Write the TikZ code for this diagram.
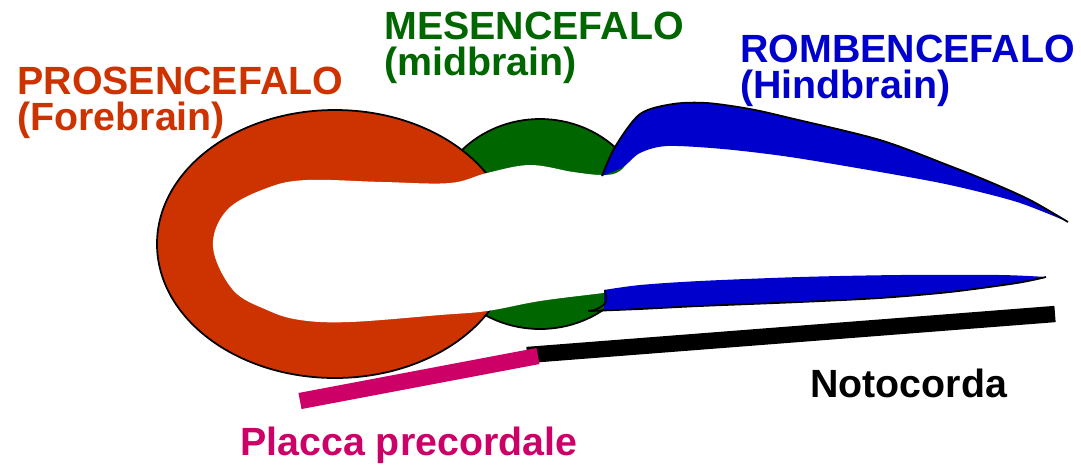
\documentclass[tikz,border=0pt]{standalone}
\usepackage{fontspec}
\setmainfont{Liberation Sans}
\usepackage{xcolor}

\definecolor{prosred}{HTML}{CC3300}
\definecolor{mesgreen}{HTML}{006600}
\definecolor{rombblue}{HTML}{0000CC}
\definecolor{placpink}{HTML}{CC0066}

\begin{document}
\begin{tikzpicture}
  [x=0.02cm,y=-0.02cm,line join=round,
   every node/.style={inner sep=0pt,align=left,anchor=base west,
     font=\fontsize{22.4}{20.4}\selectfont\bfseries},
   wall/.style={draw=black,line width=1pt},
   bar/.style={line width=9.3pt}]
  \useasboundingbox (0,0) rectangle (1081,464);

  % vesicles: green one behind, red one on top
  \filldraw[wall,fill=mesgreen] (540,224) ellipse [x radius=110,y radius=105];
  \filldraw[wall,fill=prosred] (335,244) ellipse [x radius=178,y radius=134];

  % neural canal
  \fill[white] plot[smooth cycle,tension=0.6] coordinates {
    (213,247) (227,210) (267,188) (307,180) (383,182) (450,183) (487,173)
    (530,165) (573,172) (603,175) (620,171) (637,153) (667,146) (723,149)
    (790,155) (880,171) (950,183) (1060,217) (1060,270) (1000,277)
    (900,277) (800,279) (700,284) (640,288) (603,293) (540,301) (487,311)
    (440,315) (350,322) (300,320) (267,310) (233,290)};

  % rombencefalo, roof
  \fill[rombblue] plot[smooth] coordinates {(602,176) (615,147) (640,114)
      (673,104) (707,103) (750,109) (790,118) (880,140) (950,166) (990,182)
      (1030,200) (1068,222)}
    -- plot[smooth] coordinates {(1068,222) (1017,202) (950,185) (880,172)
      (790,157) (723,149) (667,146) (640,153) (623,167) (602,176)} -- cycle;
  \draw[wall] plot[smooth] coordinates {(602,176) (615,147) (640,114)
    (673,104) (707,103) (750,109) (790,118) (880,140) (950,166) (990,182)
    (1030,200) (1068,222)};

  % rombencefalo, floor
  \fill[rombblue] plot[smooth] coordinates {(604,290) (640,285) (700,281)
      (800,277) (900,275) (1000,275) (1046,277)}
    -- plot[smooth] coordinates {(1046,277) (1017,283) (950,292) (880,298)
      (800,302) (700,306) (640,309) (604,310)} -- cycle;
  \draw[wall] plot[smooth] coordinates {(605,290) (606,302) (597,309) (588,311)};
  \draw[wall] plot[smooth] coordinates {(590,311) (640,309) (700,306)
    (800,302) (880,298) (950,292) (1017,283) (1046,277)};

  \coordinate (noto-a) at (527,355);
  \coordinate (noto-b) at (1055,314);
  \coordinate (plac-a) at (300,401);
  \coordinate (plac-b) at (538,356);
  \draw[bar,black] (noto-a) -- (noto-b);
  \draw[bar,placpink] (plac-a) -- (plac-b);

  \node[text=prosred] (prosencefalo) at (17,130) {PROSENCEFALO\\(Forebrain)};
  \node[text=mesgreen] (mesencefalo) at (384,75) {MESENCEFALO\\(midbrain)};
  \node[text=rombblue] (rombencefalo) at (740,98) {ROMBENCEFALO\\(Hindbrain)};
  \node[text=placpink] (placca) at (240,455) {Placca precordale};
  \node (notocorda) at (810,397) {Notocorda};

\end{tikzpicture}
\end{document}
